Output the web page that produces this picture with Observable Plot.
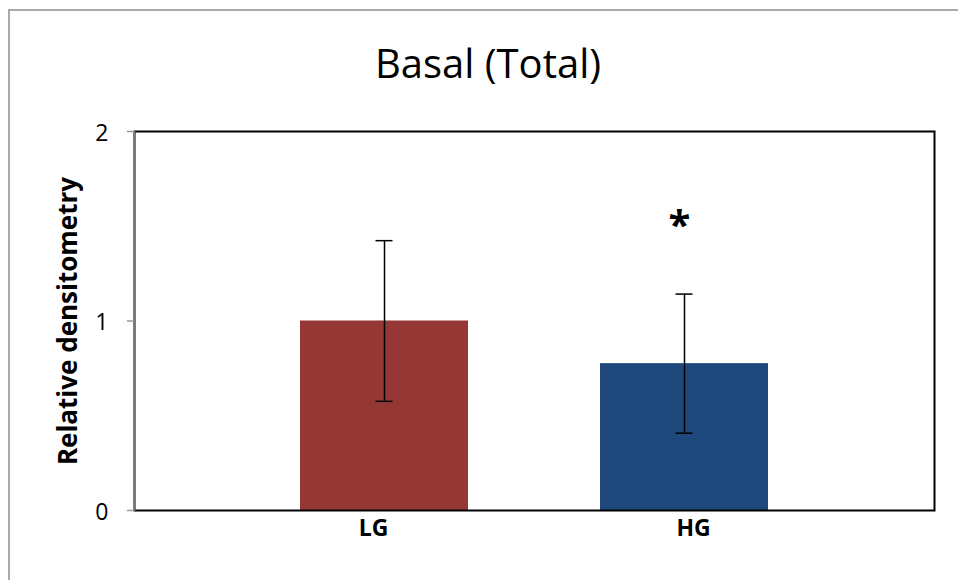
<!DOCTYPE html>
<html>
<head>
<meta charset="utf-8">
<script src="https://cdn.jsdelivr.net/npm/d3@7"></script>
<script src="https://cdn.jsdelivr.net/npm/@observablehq/plot@0.6"></script>
<style>
  html, body { margin: 0; padding: 0; background: #fff; }
  #wrap { position: relative; width: 958px; height: 580px; overflow: hidden; font-family: "Open Sans", "Noto Sans", sans-serif; }
  #border { position: absolute; left: 8px; top: 9px; right: -4px; bottom: -4px; border-left: 2px solid #aaa; border-top: 2px solid #aaa; }
  #title { position: absolute; left: 0; top: 43px; width: 976px; text-align: center; font-size: 40px; line-height: 40px; color: #000; white-space: nowrap; }
  #chart { position: absolute; left: 0; top: 0; }
</style>
</head>
<body>
<div id="wrap">
  <div id="border"></div>
  <div id="title">Basal (Total)</div>
  <div id="chart"></div>
</div>
<script>
// Group means and standard deviations
const groups = ["LG", "HG"];
const means = [1.0, 0.775];
const errors = [0.424, 0.367];
const colors = ["#953735", "#1F497D"];
const yTicks = [0, 1, 2];
const marks = [{group: "HG", label: "*", y: 1.50}];

const rows = groups.map((g, i) => ({
  group: g,
  mean: means[i],
  lo: means[i] - errors[i],
  hi: means[i] + errors[i],
  color: colors[i]
}));

const font = "'Open Sans', 'Noto Sans', sans-serif";
const catLabel = (g, dx) => Plot.text([g], {x: d => d, frameAnchor: "bottom", dx, dy: 25, fontSize: 23, fontWeight: "bold", fill: "#000"});

const chart = Plot.plot({
  width: 958,
  height: 580,
  marginTop: 131,
  marginBottom: 70,
  marginLeft: 134,
  marginRight: 24,
  style: {background: "transparent", fontFamily: font},
  x: {domain: groups, paddingInner: 0.44, paddingOuter: 0.553, label: null, axis: null},
  y: {domain: [0, 2], label: null, axis: null},
  marks: [
    Plot.barY(rows, {x: "group", y: "mean", fill: "color"}),
    Plot.ruleX(rows, {x: "group", y1: "lo", y2: "hi", stroke: "#000", strokeWidth: 1.5}),
    Plot.tickY(rows, {x: "group", y: "hi", stroke: "#000", strokeWidth: 1.5, insetLeft: 75.5, insetRight: 75.5}),
    Plot.tickY(rows, {x: "group", y: "lo", stroke: "#000", strokeWidth: 1.5, insetLeft: 75.5, insetRight: 75.5}),
    Plot.text(marks, {x: "group", y: "y", text: "label", dx: -5, fontSize: 40, fontWeight: "bold", fill: "#000"}),
    Plot.frame({stroke: "#000", strokeWidth: 2}),
    Plot.frame({anchor: "left", stroke: "#777", strokeWidth: 1.5}),
    // y ticks and their labels
    Plot.tickY(yTicks, {y: d => d, frameAnchor: "left", stroke: "#999", strokeWidth: 1.5, insetLeft: -7, insetRight: 800}),
    Plot.text(yTicks, {y: d => d, frameAnchor: "left", dx: -26, dy: 2, textAnchor: "end", fontSize: 23, fill: "#000"}),
    // category labels
    catLabel(groups[0], -11),
    catLabel(groups[1], 9),
    Plot.text(["Relative densitometry"], {frameAnchor: "left", textAnchor: "middle", rotate: -90, dx: -66, dy: 0, fontSize: 26, fontWeight: "bold", fill: "#000"})
  ]
});
document.getElementById("chart").appendChild(chart);
</script>
</body>
</html>
